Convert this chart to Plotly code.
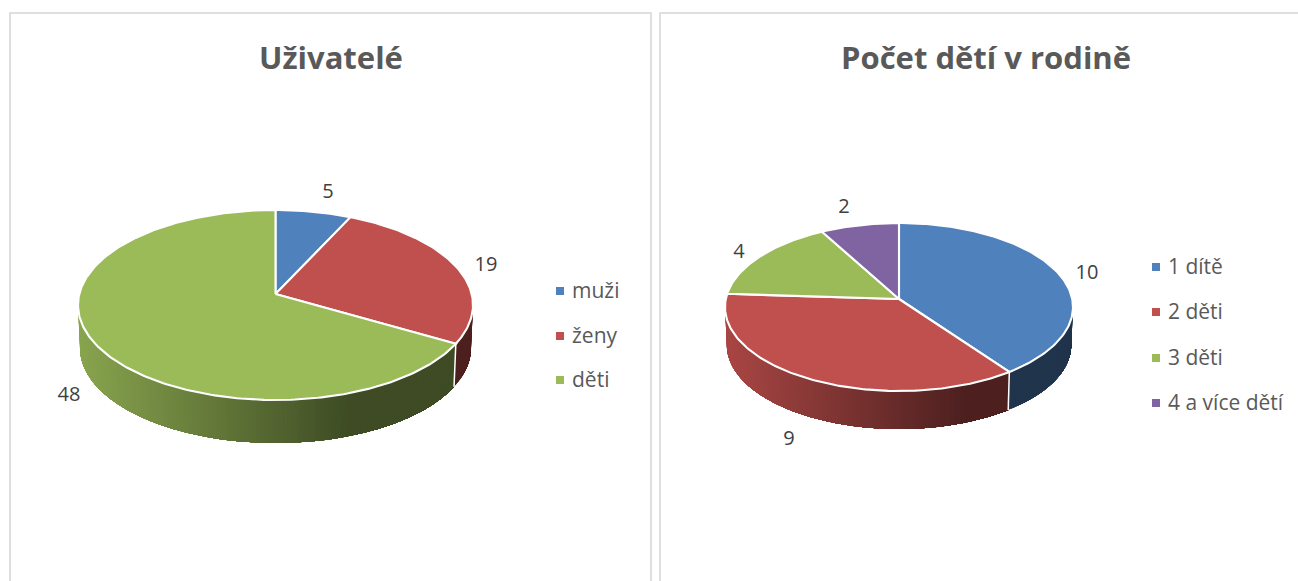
import plotly.graph_objects as go
import math

# ---- data ----
users_labels = ["muži", "ženy", "děti"]
users_values = [5, 19, 48]
kids_labels = ["1 dítě", "2 děti", "3 děti", "4 a více dětí"]
kids_values = [10, 9, 4, 2]
colors = ["#4f81bd", "#c0504d", "#9bbb59", "#8064a2"]
titles = ["Uživatelé", "Počet dětí v rodině"]

# ---- layout constants (pixels) ----
W, H = 1298, 581
TEXT_DY = 2
PIES = [
    dict(labels=users_labels, values=users_values, title=titles[0], title_x=330.5,
         cx=275.5, cy=294, up=84, down=106, half=197.5, depth=43,
         label_xy=[(328, 191), (486, 264), (69, 394)],
         legend_x=560, legend_y=[291, 336, 380]),
    dict(labels=kids_labels, values=kids_values, title=titles[1], title_x=985.5,
         cx=899, cy=299, up=76, down=92, half=174, depth=38,
         label_xy=[(1087, 272), (789, 438), (739, 251), (844, 206)],
         legend_x=1156, legend_y=[267, 312, 358, 403]),
]
FONT = "Open Sans"
BORDER = "#dfdfdf"


def projector(p):
    k = (p["down"] - p["up"]) / (p["down"] + p["up"])
    s = p["up"] * (1 + k)
    r = p["half"] * math.sqrt(1 - k * k)

    def project(deg):
        t = math.radians(deg)
        w = 1 + k * math.cos(t)
        return p["cx"] + r * math.sin(t) / w, p["cy"] - s * math.cos(t) / w

    return project


def shade(hex_color, f):
    rgb = [int(hex_color[i:i + 2], 16) for i in (1, 3, 5)]
    return "rgb({},{},{})".format(*[round(c * f) for c in rgb])


fig = go.Figure()


def add_poly(xs, ys, fill, line_color, line_width, name=None):
    fig.add_trace(go.Scatter(x=xs, y=ys, mode="lines", fill="toself", fillcolor=fill,
                             line=dict(color=line_color, width=line_width),
                             hoverinfo="skip" if name is None else "text",
                             text=name, showlegend=False))


for p in PIES:
    project = projector(p)
    total = sum(p["values"])
    edges = [0.0]
    for v in p["values"]:
        edges.append(edges[-1] + v / total * 360)
    left = p["cx"] - p["half"]

    def bottom(deg):
        x, y = project(deg)
        return p["cx"] + (x - p["cx"]) * 0.99, y + p["depth"]

    # side wall: painted left to right, each band reaching to the slice's right
    # end so later bands overdraw earlier ones and no seams show
    for i in reversed(range(len(p["values"]))):
        col = colors[i]
        a0, a1 = max(edges[i], 90), min(edges[i + 1], 270)
        if a1 <= a0:
            continue
        n = max(1, int((a1 - a0)))
        for j in range(n):
            s1 = a1 - (a1 - a0) * j / n          # left end of this band
            s0 = a1 - (a1 - a0) * (j + 1) / n
            tx = (project(s1)[0] + project(s0)[0]) / 2
            t = (tx - left) / (2 * p["half"])
            f = 0.88 - (0.88 - 0.40) * min(t / 0.69, 1)
            c = shade(col, f)
            arc = [a0 + (s1 - a0) * q / max(1, n - j) for q in range(n - j + 1)]
            tops = [project(a) for a in arc]
            bots = [bottom(a) for a in reversed(arc)]
            pts = tops + bots + tops[:1]
            add_poly([q[0] for q in pts], [q[1] for q in pts], c, c, 0)

    # white seams between wall sections
    for e in edges[1:-1]:
        if 90 < e < 270:
            a, b = project(e), bottom(e)
            fig.add_trace(go.Scatter(x=[a[0], b[0]], y=[a[1], b[1]], mode="lines",
                                     line=dict(color="white", width=1.5),
                                     hoverinfo="skip", showlegend=False))

    # top face wedges
    for i, v in enumerate(p["values"]):
        n = max(2, int(edges[i + 1] - edges[i]))
        pts = [project(edges[i] + (edges[i + 1] - edges[i]) * j / n) for j in range(n + 1)]
        xs = [p["cx"]] + [q[0] for q in pts] + [p["cx"]]
        ys = [p["cy"]] + [q[1] for q in pts] + [p["cy"]]
        add_poly(xs, ys, colors[i], "white", 2.1, f"{p['labels'][i]}: {v}")

    # data labels
    fig.add_trace(go.Scatter(x=[q[0] for q in p["label_xy"]],
                             y=[q[1] + TEXT_DY for q in p["label_xy"]],
                             mode="text", text=[str(v) for v in p["values"]],
                             textposition="middle center",
                             textfont=dict(family=FONT, size=20, color="#404040"),
                             hoverinfo="skip", showlegend=False))

    # legend
    fig.add_trace(go.Scatter(x=[p["legend_x"]] * len(p["labels"]), y=p["legend_y"],
                             mode="markers",
                             marker=dict(symbol="square", size=8, color=colors[:len(p["labels"])]),
                             hoverinfo="skip", showlegend=False))
    fig.add_trace(go.Scatter(x=[p["legend_x"] + 12] * len(p["labels"]),
                             y=[y + TEXT_DY for y in p["legend_y"]],
                             mode="text", text=p["labels"], textposition="middle right",
                             textfont=dict(family=FONT, size=21, color="#595959"),
                             hoverinfo="skip", showlegend=False))

    # title
    fig.add_annotation(x=p["title_x"], y=57, xref="x", yref="y",
                       text=f"<b>{p['title']}</b>", showarrow=False,
                       font=dict(family=FONT, size=31, color="#595959"))

# chart frames
for x0, x1 in [(10, 651), (660, W + 10)]:
    fig.add_shape(type="rect", x0=x0, x1=x1, y0=13, y1=H + 10, xref="x", yref="y",
                  line=dict(color=BORDER, width=2), fillcolor="rgba(0,0,0,0)", layer="below")

fig.update_layout(
    width=W, height=H, autosize=False,
    margin=dict(l=0, r=0, t=0, b=0),
    paper_bgcolor="white", plot_bgcolor="white", showlegend=False,
    xaxis=dict(range=[0, W], visible=False, fixedrange=True),
    yaxis=dict(range=[H, 0], visible=False, fixedrange=True),
)
fig.write_html("out.html", config={"displayModeBar": False},
               post_script="document.body.style.margin='0';document.body.style.overflow='hidden';")
